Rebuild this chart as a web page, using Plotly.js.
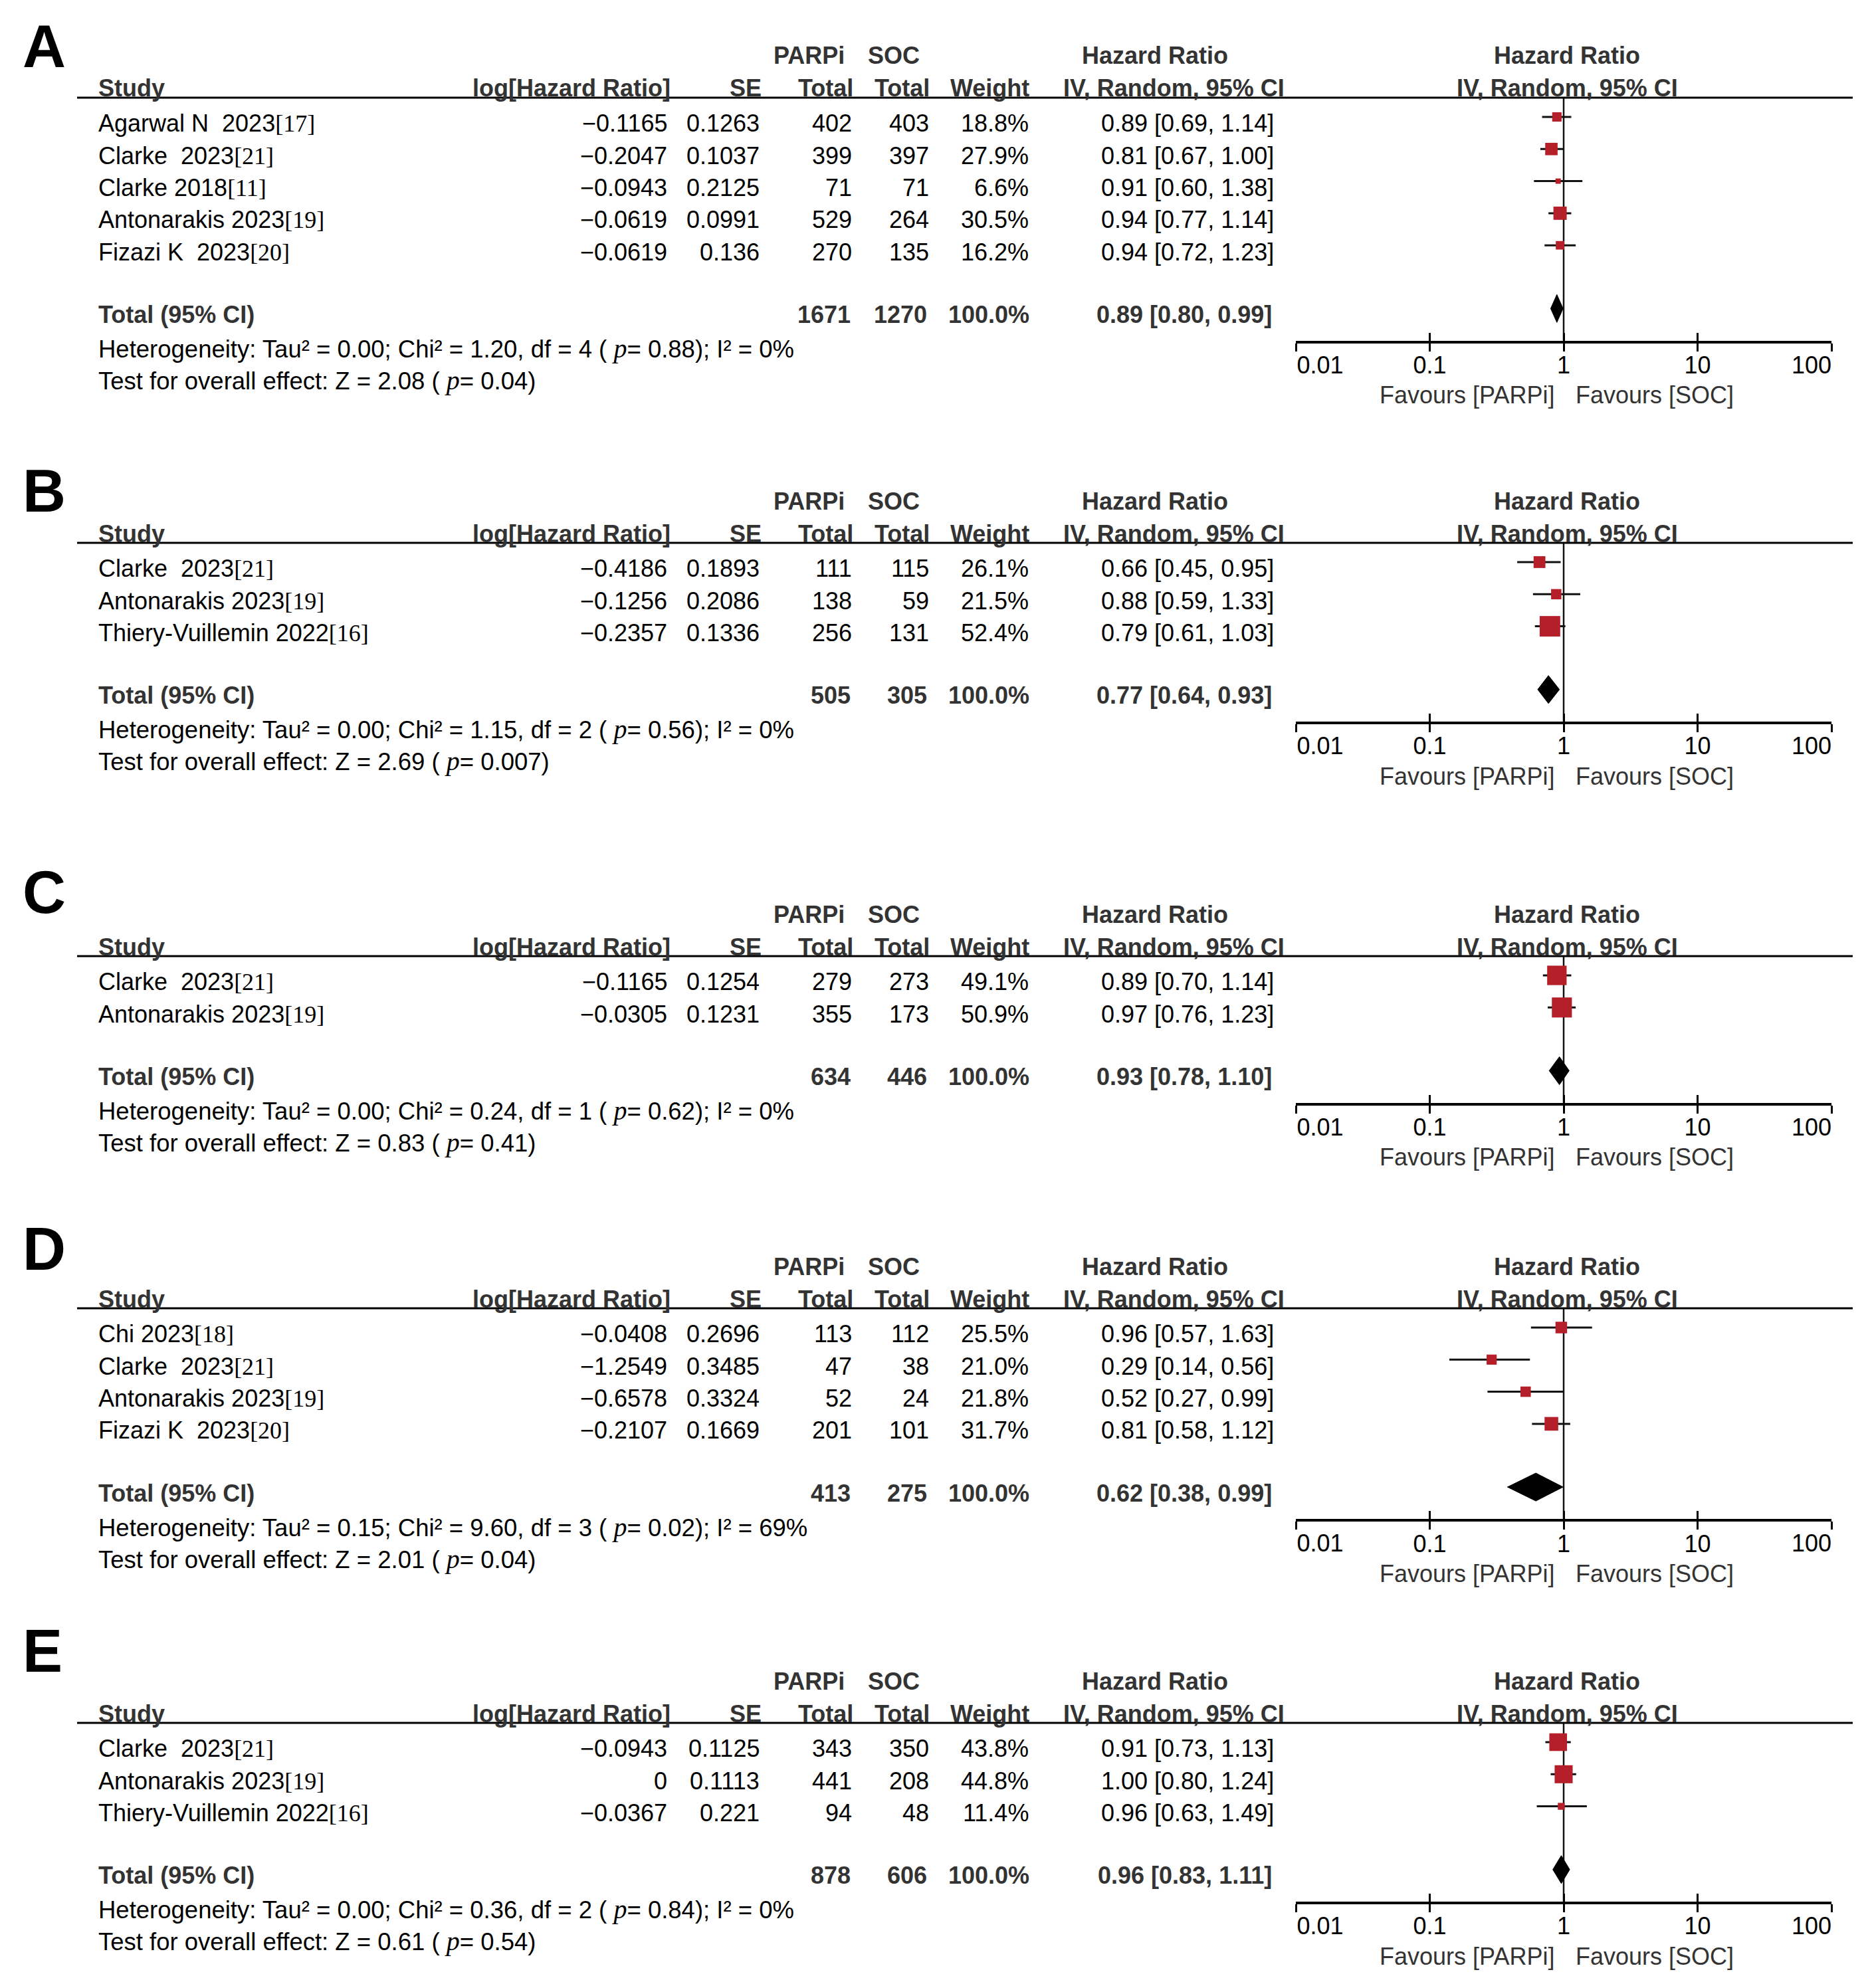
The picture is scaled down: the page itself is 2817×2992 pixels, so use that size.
<!DOCTYPE html>
<html><head><meta charset="utf-8">
<script src="https://cdn.plot.ly/plotly-3.0.1.min.js"></script>
<style>html,body{margin:0;padding:0;background:#fff}</style>
</head><body>
<div id="chart" style="width:2817px;height:2992px"></div>
<script>
// ---------------- DATA ----------------
const panelLetters = ['A','B','C','D','E'];
const tickVals = [0.01, 0.1, 1, 10, 100];
const tickLabels = ['0.01','0.1','1','10','100'];
const favourLabels = ['Favours [PARPi]','Favours [SOC]'];

// Panel A
const studiesA = ['Agarwal N  2023','Clarke  2023','Clarke 2018','Antonarakis 2023','Fizazi K  2023'];
const refsA = ['[17]','[21]','[11]','[19]','[20]'];
const logHRA = ['−0.1165','−0.2047','−0.0943','−0.0619','−0.0619'];
const seA = ['0.1263','0.1037','0.2125','0.0991','0.136'];
const parpiA = [402,399,71,529,270];
const socA = [403,397,71,264,135];
const weightA = [18.8,27.9,6.6,30.5,16.2];
const hrA = [0.89,0.81,0.91,0.94,0.94];
const loA = [0.69,0.67,0.60,0.77,0.72];
const hiA = [1.14,1.00,1.38,1.14,1.23];

// Panel B
const studiesB = ['Clarke  2023','Antonarakis 2023','Thiery-Vuillemin 2022'];
const refsB = ['[21]','[19]','[16]'];
const logHRB = ['−0.4186','−0.1256','−0.2357'];
const seB = ['0.1893','0.2086','0.1336'];
const parpiB = [111,138,256];
const socB = [115,59,131];
const weightB = [26.1,21.5,52.4];
const hrB = [0.66,0.88,0.79];
const loB = [0.45,0.59,0.61];
const hiB = [0.95,1.33,1.03];

// Panel C
const studiesC = ['Clarke  2023','Antonarakis 2023'];
const refsC = ['[21]','[19]'];
const logHRC = ['−0.1165','−0.0305'];
const seC = ['0.1254','0.1231'];
const parpiC = [279,355];
const socC = [273,173];
const weightC = [49.1,50.9];
const hrC = [0.89,0.97];
const loC = [0.70,0.76];
const hiC = [1.14,1.23];

// Panel D
const studiesD = ['Chi 2023','Clarke  2023','Antonarakis 2023','Fizazi K  2023'];
const refsD = ['[18]','[21]','[19]','[20]'];
const logHRD = ['−0.0408','−1.2549','−0.6578','−0.2107'];
const seD = ['0.2696','0.3485','0.3324','0.1669'];
const parpiD = [113,47,52,201];
const socD = [112,38,24,101];
const weightD = [25.5,21.0,21.8,31.7];
const hrD = [0.96,0.29,0.52,0.81];
const loD = [0.57,0.14,0.27,0.58];
const hiD = [1.63,0.56,0.99,1.12];

// Panel E
const studiesE = ['Clarke  2023','Antonarakis 2023','Thiery-Vuillemin 2022'];
const refsE = ['[21]','[19]','[16]'];
const logHRE = ['−0.0943','0','−0.0367'];
const seE = ['0.1125','0.1113','0.221'];
const parpiE = [343,441,94];
const socE = [350,208,48];
const weightE = [43.8,44.8,11.4];
const hrE = [0.91,1.00,0.96];
const loE = [0.73,0.80,0.63];
const hiE = [1.13,1.24,1.49];

// Pooled totals (A..E)
const totalParpi = [1671,505,634,413,878];
const totalSoc = [1270,305,446,275,606];
const totalHR = [0.89,0.77,0.93,0.62,0.96];
const totalLo = [0.80,0.64,0.78,0.38,0.83];
const totalHi = [0.99,0.93,1.10,0.99,1.11];
const tau2 = ['0.00','0.00','0.00','0.15','0.00'];
const chi2 = ['1.20','1.15','0.24','9.60','0.36'];
const dfHet = ['4','2','1','3','2'];
const pHet = ['0.88','0.56','0.62','0.02','0.84'];
const i2 = ['0%','0%','0%','69%','0%'];
const zVal = ['2.08','2.69','0.83','2.01','0.61'];
const pZ = ['0.04','0.007','0.41','0.04','0.54'];

// ---------------- LAYOUT CONSTANTS ----------------
const W = 2817, H = 2992, R = 48.3;
const lineY = [147, 817, 1439, 1969, 2593];
const letterY = [70, 739, 1343, 1880, 2485];
const axL = 1950, axR = 2756;
const FONT = 'Liberation Sans, Arial, sans-serif';
const FS = 36;
const BLACK = '#000', DARK = '#333', RED = '#B51F29';
const col = {study:147, loghrH:1010, loghr:1005, seH:1147, se:1144, npH:1285, np:1283,
             nsH:1400, ns:1399, wH:1550, w:1549, ciR:1918, parpiL:1163, socL:1305,
             hrCI:1738, ivCI:1766, hrPlot:2358, lineL:116, lineR:2788};

const panels = [
  {study:studiesA, ref:refsA, loghr:logHRA, se:seA, np:parpiA, ns:socA, w:weightA, hr:hrA, lo:loA, hi:hiA},
  {study:studiesB, ref:refsB, loghr:logHRB, se:seB, np:parpiB, ns:socB, w:weightB, hr:hrB, lo:loB, hi:hiB},
  {study:studiesC, ref:refsC, loghr:logHRC, se:seC, np:parpiC, ns:socC, w:weightC, hr:hrC, lo:loC, hi:hiC},
  {study:studiesD, ref:refsD, loghr:logHRD, se:seD, np:parpiD, ns:socD, w:weightD, hr:hrD, lo:loD, hi:hiD},
  {study:studiesE, ref:refsE, loghr:logHRE, se:seE, np:parpiE, ns:socE, w:weightE, hr:hrE, lo:loE, hi:hiE}
];

const data = [], annotations = [], shapes = [];
const layout = {
  width: W, height: H, margin:{l:0,r:0,t:0,b:0,pad:0},
  paper_bgcolor:'#fff', plot_bgcolor:'rgba(0,0,0,0)', showlegend:false,
  font:{family:FONT, size:FS, color:BLACK}
};
const xKey = id => id === 1 ? 'xaxis' : 'xaxis' + id;
const xRef = id => id === 1 ? 'x' : 'x' + id;
const fmt2 = v => v.toFixed(2);
const ciText = (h,l,u) => fmt2(h) + ' [' + fmt2(l) + ', ' + fmt2(u) + ']';
const serif = s => '<span style="font-family:Liberation Serif">' + s + '</span>';
const pItal = '<span style="font-family:Liberation Serif;font-size:40px"><i>p</i></span>';
const nb = s => s.replace(/  /g, ' \u00a0');

function ann(text, x, xanchor, yref, y, yshift, opts) {
  opts = opts || {};
  annotations.push({
    text: opts.bold ? '<b>' + text + '</b>' : text,
    xref: opts.xref || 'paper', x: opts.xref ? x : x / W, xanchor: xanchor, xshift: opts.xshift || 0,
    yref: yref, y: y, yanchor: 'middle', yshift: yshift,
    showarrow: false, borderpad: 0,
    font: {family: FONT, size: opts.size || FS, color: opts.color || (opts.bold ? DARK : BLACK)}
  });
}

panels.forEach((p, i) => {
  const k = i + 1, n = p.hr.length;
  const top = -0.6, tot = n + 0.97, bot = n + 1.97;
  const axisPx = lineY[i] + (bot - top) * R;
  const yname = 'y' + k;
  layout['yaxis' + k] = {domain:[1 - axisPx / H, 1 - lineY[i] / H], range:[bot, top],
    visible:false, fixedrange:true, showgrid:false, zeroline:false};

  const idA = 3 * i + 1, idB = 3 * i + 2, idC = 3 * i + 3;
  const common = {type:'log', range:[-2, 2], domain:[axL / W, axR / W], anchor:yname,
    showgrid:false, zeroline:false, fixedrange:true, tickmode:'array',
    tickfont:{family:FONT, size:FS, color:BLACK}};
  layout[xKey(idA)] = Object.assign({}, common, {
    showline:true, linewidth:4, linecolor:'#000', ticks:'outside', ticklen:12, tickwidth:3, tickcolor:'#000',
    tickvals: tickVals, ticktext: tickLabels.map((t, j) => (j === 0 || j === tickLabels.length - 1) ? '' : t),
    ticklabelstandoff:-10
  });
  layout[xKey(idB)] = Object.assign({}, common, {
    overlaying: xRef(idA), showline:false, ticks:'inside', ticklen:12, tickwidth:3, tickcolor:'#000',
    tickvals: tickVals, ticktext: tickLabels.map((t, j) => j === 0 ? t : ''),
    ticklabelposition:'outside right', ticklabelstandoff:12
  });
  layout[xKey(idC)] = Object.assign({}, common, {
    overlaying: xRef(idA), showline:false, ticks:'',
    tickvals: tickVals, ticktext: tickLabels.map((t, j) => j === tickLabels.length - 1 ? t : ''),
    ticklabelposition:'outside left', ticklabelstandoff:12
  });

  const rows = p.hr.map((_, j) => j);
  // line of no effect
  data.push({type:'scatter', mode:'lines', x:[1, 1], y:[top, bot], xaxis:xRef(idA), yaxis:yname,
    line:{color:'#111', width:2.5}, hoverinfo:'skip'});
  // study estimates with CI
  data.push({type:'scatter', mode:'markers', x:p.hr, y:rows, xaxis:xRef(idB), yaxis:yname,
    marker:{symbol:'square', color:RED, opacity:1, size:p.w.map(w => 4.7 + 0.5 * w), line:{width:0}},
    error_x:{type:'data', symmetric:false, array:p.hr.map((h, j) => p.hi[j] - h),
      arrayminus:p.hr.map((h, j) => h - p.lo[j]), width:0, thickness:3, color:'#111'},
    hoverinfo:'skip', cliponaxis:false});
  // pooled diamond
  const dh = 0.435;
  data.push({type:'scatter', mode:'lines', fill:'toself', fillcolor:'#000',
    x:[totalLo[i], totalHR[i], totalHi[i], totalHR[i], totalLo[i]],
    y:[tot, tot - dh, tot, tot + dh, tot], xaxis:xRef(idC), yaxis:yname,
    line:{color:'#000', width:1}, hoverinfo:'skip'});

  // header rule
  shapes.push({type:'line', xref:'paper', yref:'paper', x0:col.lineL / W, x1:col.lineR / W,
    y0:1 - lineY[i] / H, y1:1 - lineY[i] / H, line:{color:'#000', width:3}});

  // panel letter
  annotations.push({text:'<b>' + panelLetters[i] + '</b>', xref:'paper', yref:'paper', x:33 / W,
    y:1 - letterY[i] / H, xanchor:'left', yanchor:'middle', showarrow:false, borderpad:0,
    font:{family:FONT, size:90, color:'#000'}});

  // headers
  const b = {bold:true};
  ann('PARPi', col.parpiL, 'left', yname, top, 63, b);
  ann('SOC', col.socL, 'left', yname, top, 63, b);
  ann('Hazard Ratio', col.hrCI, 'center', yname, top, 63, b);
  ann('Hazard Ratio', col.hrPlot, 'center', yname, top, 63, b);
  ann('Study', col.study, 'left', yname, top, 14, b);
  ann('log[Hazard Ratio]', col.loghrH, 'right', yname, top, 14, b);
  ann('SE', col.seH, 'right', yname, top, 14, b);
  ann('Total', col.npH, 'right', yname, top, 14, b);
  ann('Total', col.nsH, 'right', yname, top, 14, b);
  ann('Weight', col.wH, 'right', yname, top, 14, b);
  ann('IV, Random, 95% CI', col.ivCI, 'center', yname, top, 14, b);
  ann('IV, Random, 95% CI', col.hrPlot, 'center', yname, top, 14, b);

  // study rows
  rows.forEach(j => {
    ann(nb(p.study[j]) + serif(p.ref[j]), col.study, 'left', yname, j, -10);
    ann(p.loghr[j], col.loghr, 'right', yname, j, -10);
    ann(p.se[j], col.se, 'right', yname, j, -10);
    ann(String(p.np[j]), col.np, 'right', yname, j, -10);
    ann(String(p.ns[j]), col.ns, 'right', yname, j, -10);
    ann(p.w[j].toFixed(1) + '%', col.w, 'right', yname, j, -10);
    ann(ciText(p.hr[j], p.lo[j], p.hi[j]), col.ciR, 'right', yname, j, -10);
  });

  // total row
  const wsum = p.w.reduce((a, c) => a + c, 0);
  ann('Total (95% CI)', col.study, 'left', yname, tot, -9, b);
  ann(String(totalParpi[i]), col.np - 2, 'right', yname, tot, -9, b);
  ann(String(totalSoc[i]), col.ns - 3, 'right', yname, tot, -9, b);
  ann(wsum.toFixed(1) + '%', col.w + 1, 'right', yname, tot, -9, b);
  ann(ciText(totalHR[i], totalLo[i], totalHi[i]), col.ciR - 3, 'right', yname, tot, -9, b);

  ann('Heterogeneity: Tau² = ' + tau2[i] + '; Chi² = ' + chi2[i] + ', df = ' + dfHet[i] +
      ' (\u00a0' + pItal + '= ' + pHet[i] + '); I² = ' + i2[i], col.study, 'left', yname, tot, -60,
      {size:36.5});
  ann('Test for overall effect: Z = ' + zVal[i] + ' (\u00a0' + pItal + '= ' + pZ[i] + ')',
      col.study, 'left', yname, tot, -108, {size:36.5});

  // favours labels
  ann(favourLabels[0], Math.log10(1), 'right', yname, bot, -82, {xref:xRef(idA), xshift:-13, color:DARK});
  ann(favourLabels[1], Math.log10(1), 'left', yname, bot, -82, {xref:xRef(idA), xshift:17, color:DARK});
});

layout.annotations = annotations;
layout.shapes = shapes;
Plotly.newPlot('chart', data, layout, {displayModeBar:false, staticPlot:true});
</script>
</body></html>
